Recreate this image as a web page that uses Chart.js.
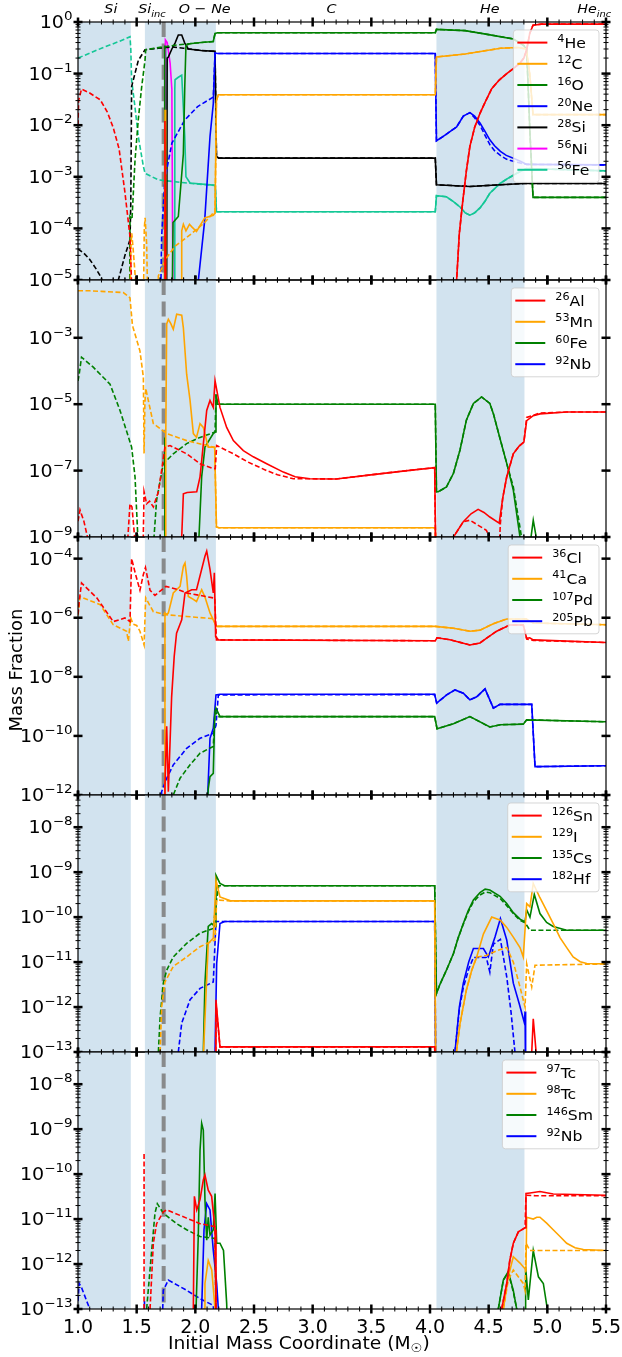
<!DOCTYPE html>
<html>
<head>
<meta charset="utf-8">
<title>Mass fraction profiles</title>
<script src="https://cdn.jsdelivr.net/npm/chart.js@4.4.1/dist/chart.umd.min.js"></script>
<style>
  html, body { margin: 0; padding: 0; background: #fff; }
  body { width: 622px; height: 1357px; position: relative; overflow: hidden; }
  canvas { position: absolute; left: 0; }
</style>
</head>
<body>
<canvas id="panel1"></canvas>
<canvas id="panel2"></canvas>
<canvas id="panel3"></canvas>
<canvas id="panel4"></canvas>
<canvas id="panel5"></canvas>
<script>
// ---- shared x axis / zones ----
const xTicks = [1.0, 1.5, 2.0, 2.5, 3.0, 3.5, 4.0, 4.5, 5.0, 5.5];
const zoneNames = [["Si", ""], ["Si", "inc"], ["O \u2212 Ne", ""], ["C", ""], ["He", ""], ["He", "inc"]];
const zoneLabelX = [1.28, 1.63, 2.08, 3.16, 4.51, 5.40];
const zoneBands = [[1.0, 1.45], [1.57, 2.175], [4.055, 4.805]];
const massCut = 1.73;

// ---- panel 1 ----
const he4Solid = [[1.735,1e-6],[1.741,1.2e-2],[1.747,1e-6],[1.75,null],[4.22,3e-6],[4.227,1e-5],[4.25,8e-5],[4.28,3.5e-4],[4.31,1.3e-3],[4.34,3.9e-3],[4.38,9e-3],[4.426,1.7e-2],[4.47,2.8e-2],[4.526,5.1e-2],[4.59,7.5e-2],[4.654,0.1],[4.71,0.125],[4.767,0.16],[4.80,0.2],[4.824,0.29],[4.85,0.6],[4.878,0.87],[4.95,0.91],[5.5,0.91]];
const he4Dashed = [[1.0,1e-2],[1.005,3e-2],[1.03,5e-2],[1.1,4.2e-2],[1.19,3.1e-2],[1.25,1.8e-2],[1.30,9e-3],[1.35,3.5e-3],[1.40,5e-4],[1.443,7e-5],[1.46,5e-6],[1.47,null],[4.22,3e-6],[4.227,1e-5],[4.25,8e-5],[4.28,3.5e-4],[4.31,1.3e-3],[4.34,3.9e-3],[4.38,9e-3],[4.426,1.7e-2],[4.47,2.8e-2],[4.526,5.1e-2],[4.59,7.5e-2],[4.654,0.1],[4.71,0.125],[4.767,0.16],[4.80,0.2],[4.824,0.29],[4.85,0.6],[4.878,0.87],[4.95,0.91],[5.5,0.91]];
const c12Solid = [[1.737,1e-6],[1.742,2e-2],[1.747,1e-6],[1.75,null],[1.88,1e-6],[1.884,9e-5],[1.898,1.2e-4],[1.92,9e-5],[1.95,1.2e-4],[1.97,1.07e-4],[2.01,8.7e-5],[2.08,1.6e-4],[2.153,1.8e-4],[2.168,2e-4],[2.18,3e-2],[2.195,3.9e-2],[4.045,3.9e-2],[4.055,0.21],[4.3,0.24],[4.6,0.31],[4.75,0.32],[4.82,0.3],[4.85,0.1],[4.878,1.6e-2],[5.5,1.6e-2]];
const c12Dashed = [[1.44,1e-6],[1.452,5e-5],[1.458,8e-5],[1.47,4e-5],[1.49,1e-5],[1.50,1e-6],[1.51,null],[1.555,1e-6],[1.565,1e-4],[1.572,1.6e-4],[1.585,5e-5],[1.60,1e-6],[1.61,null],[1.68,1e-6],[1.685,1.2e-5],[1.75,2.6e-5],[1.827,4.5e-5],[1.97,8e-5],[2.08,1.3e-4],[2.153,2e-4],[2.168,2e-4],[2.18,3e-2],[2.195,3.9e-2],[4.045,3.9e-2],[4.055,0.21],[4.3,0.24],[4.6,0.31],[4.75,0.32],[4.82,0.3],[4.85,0.1],[4.878,1.6e-2],[5.5,1.6e-2]];
const o16Solid = [[1.736,1e-6],[1.739,0.35],[1.744,1e-6],[1.75,null],[1.80,1e-6],[1.805,1.2e-5],[1.81,1.3e-4],[1.855,1.7e-4],[1.898,2.8e-3],[1.91,5.6e-2],[1.92,0.35],[1.95,0.38],[2.05,0.4],[2.153,0.42],[2.168,0.6],[2.19,0.62],[4.045,0.62],[4.055,0.72],[4.3,0.68],[4.5,0.57],[4.71,0.47],[4.8,0.35],[4.824,0.29],[4.852,7e-3],[4.878,4e-4],[5.5,4e-4]];
const o16Dashed = [[1.44,1e-6],[1.443,1.7e-4],[1.46,1.5e-4],[1.486,2.1e-3],[1.514,1.3e-2],[1.543,5.6e-2],[1.571,0.18],[1.577,0.29],[1.727,0.33],[1.85,0.36],[1.95,0.38],[2.05,0.4],[2.153,0.42],[2.168,0.6],[2.19,0.62],[4.045,0.62],[4.055,0.72],[4.3,0.68],[4.5,0.57],[4.71,0.47],[4.8,0.35],[4.824,0.29],[4.852,7e-3],[4.878,4e-4],[5.5,4e-4]];
const ne20Solid = [[1.735,1e-6],[1.74,1e-3],[1.745,1e-6],[1.75,null],[2.02,1e-6],[2.026,1e-5],[2.08,1.45e-4],[2.125,6e-3],[2.153,2.6e-2],[2.168,0.25],[2.19,0.245],[4.045,0.245],[4.055,5e-3],[4.11,6e-3],[4.17,7.5e-3],[4.227,9.3e-3],[4.284,1.5e-2],[4.34,1.75e-2],[4.38,1.5e-2],[4.426,1.1e-2],[4.47,7.5e-3],[4.51,5.2e-3],[4.55,4e-3],[4.6,3.1e-3],[4.65,2.6e-3],[4.71,2.3e-3],[4.77,2e-3],[4.824,1.74e-3],[5.5,1.7e-3]];
const ne20Dashed = [[1.70,1e-6],[1.713,7e-5],[1.74,8.7e-4],[1.80,4.5e-3],[1.91,1.26e-2],[2.02,2.3e-2],[2.153,3.5e-2],[2.168,0.25],[2.19,0.245],[4.045,0.245],[4.055,5e-3],[4.11,6e-3],[4.17,7.5e-3],[4.227,9.3e-3],[4.284,1.5e-2],[4.34,1.75e-2],[4.38,1.4e-2],[4.426,1.0e-2],[4.47,6.3e-3],[4.51,4.2e-3],[4.55,3.2e-3],[4.6,2.6e-3],[4.65,2.2e-3],[4.71,2.0e-3],[4.77,1.85e-3],[4.824,1.74e-3],[5.5,1.7e-3]];
const si28Solid = [[1.755,1e-6],[1.76,0.2],[1.77,0.21],[1.8,0.3],[1.827,0.39],[1.855,0.56],[1.884,0.56],[1.91,0.39],[1.94,0.3],[2.05,0.28],[2.168,0.27],[2.18,2.5e-3],[2.2,2.3e-3],[4.045,2.3e-3],[4.055,7e-4],[4.34,6.5e-4],[4.6,7e-4],[4.8,7.4e-4],[5.5,7.4e-4]];
const si28Dashed = [[1.0,4e-5],[1.05,3.3e-5],[1.1,2.5e-5],[1.15,1.7e-5],[1.2,1.1e-5],[1.23,5e-6],[1.24,null],[1.33,5e-6],[1.344,1e-5],[1.40,3e-5],[1.443,6e-5],[1.45,3e-4],[1.457,5.6e-2],[1.514,0.18],[1.571,0.29],[1.685,0.31],[1.8,0.33],[1.9,0.31],[2.05,0.28],[2.168,0.27],[2.18,2.5e-3],[2.2,2.3e-3],[4.045,2.3e-3],[4.055,7e-4],[4.34,6.5e-4],[4.6,7e-4],[4.8,7.4e-4],[5.5,7.4e-4]];
const ni56Solid = [[1.74,1e-6],[1.745,0.45],[1.76,0.4],[1.785,0.16],[1.80,5e-2],[1.81,1e-6]];
const ni56Dashed = [];
const fe56Solid = [[1.738,1e-6],[1.742,0.3],[1.748,1e-6],[1.75,null],[1.82,1e-6],[1.825,5e-2],[1.827,7.6e-2],[1.855,8.5e-2],[1.884,9.3e-2],[1.91,6e-3],[1.92,1e-3],[1.955,7.6e-4],[2.153,6.9e-4],[2.17,6.8e-4],[2.18,2.1e-4],[4.045,2.1e-4],[4.055,4.3e-4],[4.14,4.1e-4],[4.2,3.3e-4],[4.256,2.6e-4],[4.3,2e-4],[4.34,1.8e-4],[4.38,2e-4],[4.426,2.5e-4],[4.47,3.4e-4],[4.51,4.8e-4],[4.6,7.5e-4],[4.67,9.5e-4],[4.74,1.17e-3],[4.82,1.45e-3],[5.5,1.3e-3]];
const fe56Dashed = [[1.0,0.2],[1.2,0.31],[1.35,0.42],[1.443,0.52],[1.45,0.3],[1.457,7.6e-2],[1.485,2.3e-2],[1.514,6e-3],[1.557,1.6e-3],[1.571,1.17e-3],[1.685,8.7e-4],[1.97,7.4e-4],[2.17,6.8e-4],[2.18,2.1e-4],[4.045,2.1e-4],[4.055,4.3e-4],[4.14,4.1e-4],[4.2,3.3e-4],[4.256,2.6e-4],[4.3,2e-4],[4.34,1.8e-4],[4.38,2e-4],[4.426,2.5e-4],[4.47,3.4e-4],[4.51,4.8e-4],[4.6,7.5e-4],[4.67,9.5e-4],[4.74,1.17e-3],[4.82,1.45e-3],[5.5,1.3e-3]];

// ---- panel 2 ----
const al26Solid = [[1.88,1e-10],[1.884,1e-9],[1.898,2e-8],[1.93,2.2e-8],[2.012,2.3e-8],[2.04,6.5e-8],[2.097,6.5e-6],[2.125,1.3e-5],[2.153,8e-6],[2.168,5.1e-5],[2.21,8e-6],[2.267,2e-6],[2.324,8e-7],[2.409,4e-7],[2.494,2.6e-7],[2.608,1.6e-7],[2.75,9e-8],[2.85,6.5e-8],[2.977,5.7e-8],[3.2,5.6e-8],[3.46,7.2e-8],[3.75,9.5e-8],[4.04,1.23e-7],[4.05,1e-10],[4.1,null],[4.19,1e-10],[4.2,1e-9],[4.284,2.9e-9],[4.35,5e-9],[4.41,6.8e-9],[4.46,5.5e-9],[4.51,4e-9],[4.59,2.6e-9],[4.62,1.5e-8],[4.654,6.5e-8],[4.71,3.2e-7],[4.76,5.5e-7],[4.80,7.2e-7],[4.824,3.2e-6],[4.88,4.5e-6],[4.937,5.1e-6],[5.165,5.8e-6],[5.5,5.8e-6]];
const al26Dashed = [[1.0,3e-9],[1.017,6.5e-9],[1.05,3e-9],[1.1,5e-10],[1.11,null],[1.42,5e-10],[1.443,1e-8],[1.46,8e-9],[1.49,5e-10],[1.5,null],[1.555,5e-10],[1.563,2.3e-8],[1.585,1e-8],[1.61,1.2e-8],[1.642,8e-9],[1.685,2.3e-8],[1.72,1.5e-7],[1.741,5.1e-7],[1.784,5.7e-7],[1.926,3.2e-7],[2.04,1.6e-7],[2.153,1.15e-7],[2.17,1.15e-7],[2.182,5.7e-7],[2.324,3.2e-7],[2.45,1.8e-7],[2.608,1e-7],[2.7,7.5e-8],[2.835,5.7e-8],[3.2,5.6e-8],[3.46,7.2e-8],[3.75,9.5e-8],[4.04,1.23e-7],[4.05,1e-10],[4.1,null],[4.19,1e-10],[4.2,1e-9],[4.284,2.9e-9],[4.34,3.2e-9],[4.48,1.6e-9],[4.55,5e-10],[4.56,null],[4.59,5e-10],[4.6,2.6e-9],[4.62,1.5e-8],[4.654,6.5e-8],[4.71,3.2e-7],[4.76,5.5e-7],[4.80,7.2e-7],[4.824,4e-6],[4.937,5.4e-6],[5.165,5.8e-6],[5.5,5.8e-6]];
const mn53Solid = [[1.742,1e-10],[1.748,1e-6],[1.756,2.6e-3],[1.77,3.6e-3],[1.79,2.7e-3],[1.812,1.8e-3],[1.841,5.1e-3],[1.884,4.8e-3],[1.898,2e-3],[1.926,8e-5],[1.955,1.3e-5],[1.983,1.3e-6],[2.01,1e-6],[2.04,2.6e-6],[2.068,2e-6],[2.11,5.1e-7],[2.153,5.1e-7],[2.165,5e-7],[2.18,2e-9],[2.2,1.9e-9],[4.045,1.9e-9],[4.055,1e-10]];
const mn53Dashed = [[1.0,2.6e-2],[1.1,2.6e-2],[1.2,2.5e-2],[1.386,2.3e-2],[1.443,1.6e-2],[1.463,2.6e-3],[1.47,2e-3],[1.528,4e-4],[1.557,6.5e-5],[1.563,3.3e-7],[1.57,1e-5],[1.577,3e-5],[1.642,2.6e-6],[1.756,1.3e-6],[1.926,8e-7],[2.153,5.1e-7],[2.165,5e-7],[2.18,2e-9],[2.2,1.9e-9],[4.045,1.9e-9],[4.055,1e-10]];
const fe60Solid = [[1.737,1e-10],[1.74,1e-6],[1.743,1e-10],[1.75,null],[2.028,1e-10],[2.031,1e-9],[2.054,6.5e-8],[2.082,5.1e-7],[2.153,1.3e-6],[2.168,1.45e-6],[2.176,2e-5],[2.19,1e-5],[4.045,1e-5],[4.055,2.3e-8],[4.07,2.3e-8],[4.14,3.2e-8],[4.2,8.3e-8],[4.256,4.2e-7],[4.31,3.3e-6],[4.37,1.05e-5],[4.44,1.65e-5],[4.51,1.05e-5],[4.54,5.2e-6],[4.6,8.3e-7],[4.654,1.65e-7],[4.71,2.6e-8],[4.767,1e-9],[4.8,5e-10],[4.82,null],[4.85,5e-10],[4.88,3.2e-9],[4.92,5e-10]];
const fe60Dashed = [[1.0,5e-5],[1.01,8e-5],[1.03,2.6e-4],[1.13,1.3e-4],[1.273,4e-5],[1.358,6.5e-6],[1.457,5.1e-7],[1.486,6.5e-8],[1.514,5e-10],[1.52,null],[1.642,5e-10],[1.67,1.3e-8],[1.727,1.6e-7],[1.812,3.2e-7],[1.926,6.5e-7],[2.04,1e-6],[2.168,1.45e-6],[2.176,1.6e-5],[2.2,1e-5],[4.045,1e-5],[4.055,2.3e-8],[4.07,2.3e-8],[4.14,3.2e-8],[4.2,8.3e-8],[4.256,4.2e-7],[4.31,3.3e-6],[4.37,1.05e-5],[4.44,1.65e-5],[4.51,1.05e-5],[4.54,5.2e-6],[4.6,8.3e-7],[4.654,1.65e-7],[4.71,3.2e-8],[4.78,1e-9],[4.8,5e-10]];

// ---- panel 3 ----
const cl36Solid = [[1.735,1e-13],[1.741,1.9e-12],[1.756,2.1e-10],[1.77,1.3e-12],[1.798,2.1e-9],[1.82,4.9e-8],[1.84,3e-7],[1.884,8.5e-7],[1.912,6.9e-6],[1.969,8.9e-6],[2.01,8.9e-6],[2.082,1.2e-4],[2.097,1.8e-4],[2.125,4.3e-5],[2.153,6.9e-6],[2.162,3.3e-5],[2.173,2.3e-7],[2.196,1.78e-7],[4.045,1.66e-7],[4.06,2.1e-7],[4.17,1.8e-7],[4.34,1.2e-7],[4.426,1.4e-7],[4.48,2e-7],[4.568,3.5e-7],[4.68,5.7e-7],[4.795,5.7e-7],[4.824,2e-7],[4.85,2.1e-7],[4.88,1.78e-7],[5.5,1.45e-7]];
const cl36Dashed = [[1.0,1.3e-6],[1.01,3.5e-6],[1.03,1.5e-5],[1.16,4.7e-6],[1.30,7.4e-7],[1.40,9.8e-7],[1.443,7.4e-7],[1.457,1e-4],[1.49,3e-5],[1.528,8.5e-6],[1.557,2.9e-5],[1.575,5e-5],[1.614,8.5e-6],[1.656,5.7e-6],[1.70,8e-6],[1.75,1.15e-5],[1.85,9e-6],[1.926,6.9e-6],[2.153,4.7e-6],[2.165,4.7e-6],[2.18,1.78e-7],[2.196,1.78e-7],[4.045,1.66e-7],[4.06,2.1e-7],[4.17,1.8e-7],[4.34,1.2e-7],[4.426,1.4e-7],[4.48,2e-7],[4.568,3.5e-7],[4.68,5.7e-7],[4.795,5.7e-7],[4.824,1.9e-7],[4.88,1.7e-7],[5.5,1.45e-7]];
const ca41Solid = [[1.738,1e-13],[1.741,1.45e-6],[1.756,1.3e-6],[1.77,1.45e-6],[1.812,6.9e-6],[1.87,1.15e-5],[1.898,5.5e-5],[1.912,7.1e-5],[1.926,2.5e-5],[1.94,5.2e-6],[1.97,4.5e-6],[2.01,3.55e-6],[2.054,8.9e-6],[2.082,5e-6],[2.125,1.45e-6],[2.153,8.5e-7],[2.182,5.1e-7],[4.045,5.1e-7],[4.2,4.4e-7],[4.34,3.5e-7],[4.426,3.8e-7],[4.54,6.3e-7],[4.654,9.1e-7],[4.82,9.1e-7],[4.88,6.6e-7],[5.5,5.8e-7]];
const ca41Dashed = [[1.0,1.2e-6],[1.017,5.2e-6],[1.19,2.75e-6],[1.30,5.8e-7],[1.414,3.5e-7],[1.429,1.6e-7],[1.449,9.8e-7],[1.47,6e-7],[1.50,5.5e-7],[1.528,3.5e-7],[1.563,1.2e-7],[1.577,4.7e-6],[1.642,1.6e-6],[1.756,1.26e-6],[1.926,1.1e-6],[2.153,9.3e-7],[2.176,5.1e-7],[4.045,5.1e-7],[4.2,4.4e-7],[4.34,3.5e-7],[4.426,3.8e-7],[4.54,6.3e-7],[4.654,9.1e-7],[4.82,9.1e-7],[4.88,6.6e-7],[5.5,5.8e-7]];
const pd107Solid = [[2.095,1e-13],[2.11,1.6e-12],[2.125,4.2e-12],[2.153,5.4e-12],[2.165,4.5e-10],[2.176,8.7e-10],[2.21,4.5e-10],[4.04,4.5e-10],[4.06,1.74e-10],[4.2,2.6e-10],[4.34,4.5e-10],[4.51,2e-10],[4.6,2.4e-10],[4.795,2.5e-10],[4.824,3.5e-10],[5.5,3e-10]];
const pd107Dashed = [[1.80,1e-13],[1.812,1e-12],[1.87,3.7e-12],[1.955,1.05e-11],[2.04,2.6e-11],[2.153,4.4e-11],[2.168,6.6e-10],[2.2,4.5e-10],[4.04,4.5e-10],[4.06,1.74e-10],[4.2,2.6e-10],[4.34,4.5e-10],[4.51,2e-10],[4.6,2.4e-10],[4.795,2.5e-10],[4.824,3.5e-10],[5.5,3e-10]];
const pb205Solid = [[2.095,1e-13],[2.11,2.8e-12],[2.125,8.3e-11],[2.153,1.8e-10],[2.176,2.45e-9],[2.21,2.57e-9],[4.04,2.57e-9],[4.057,1.29e-9],[4.142,2.45e-9],[4.213,3.6e-9],[4.284,2.8e-9],[4.34,1.66e-9],[4.398,2.1e-9],[4.469,3.9e-9],[4.54,8.7e-10],[4.597,1.17e-9],[4.867,1.17e-9],[4.895,9.1e-12],[5.5,9.8e-12]];
const pb205Dashed = [[1.70,1e-13],[1.713,1.3e-12],[1.756,3.7e-12],[1.812,1.05e-11],[1.926,3.8e-11],[2.04,8.3e-11],[2.153,1.23e-10],[2.176,2.3e-10],[2.196,2.45e-9],[4.04,2.5e-9],[4.057,1.29e-9],[4.142,2.45e-9],[4.213,3.6e-9],[4.284,2.8e-9],[4.34,1.66e-9],[4.398,2.1e-9],[4.469,3.9e-9],[4.54,8.7e-10],[4.597,1.17e-9],[4.867,1.17e-9],[4.895,9.1e-12],[5.5,9.8e-12]];

// ---- panel 4 ----
const sn126Solid = [[2.17,1e-14],[2.176,1.45e-12],[2.21,1.3e-13],[4.04,1.3e-13],[4.05,1e-14],[4.1,null],[4.85,1e-14],[4.88,5.5e-13],[4.937,1e-14]];
const sn126Dashed = [[2.17,1e-14],[2.176,1.2e-12],[2.21,1.3e-13],[4.04,1.3e-13],[4.05,1e-14]];
const i129Solid = [[2.064,1e-14],[2.07,1e-13],[2.11,2.6e-11],[2.153,3.4e-11],[2.176,6.6e-10],[2.21,2.8e-10],[2.3,2.3e-10],[4.04,2.3e-10],[4.05,1e-14],[4.1,null],[4.22,1e-14],[4.227,1.1e-13],[4.256,4.3e-13],[4.31,2.4e-12],[4.355,6.5e-12],[4.398,1.3e-11],[4.455,4.2e-11],[4.526,1e-10],[4.6,8.5e-11],[4.654,5.9e-11],[4.71,3.6e-11],[4.767,2.1e-11],[4.795,1.3e-11],[4.824,2e-10],[4.852,1.7e-10],[4.88,5.6e-10],[4.937,2.7e-10],[4.994,1.4e-10],[5.05,7.2e-11],[5.108,3.5e-11],[5.165,2.1e-11],[5.22,1.3e-11],[5.28,1.02e-11],[5.336,9.3e-12],[5.5,9.1e-12]];
const i129Dashed = [[1.70,1e-13],[1.713,1e-12],[1.741,3.6e-12],[1.812,8e-12],[1.926,1.3e-11],[2.04,2.2e-11],[2.168,3.1e-11],[2.182,2.4e-10],[2.3,2.3e-10],[4.04,2.3e-10],[4.05,1e-14],[4.1,null],[4.22,1e-14],[4.227,1.1e-13],[4.256,4.3e-13],[4.31,2.4e-12],[4.355,6.5e-12],[4.398,1.3e-11],[4.48,1.4e-11],[4.57,1.8e-11],[4.654,2.1e-11],[4.71,1e-11],[4.767,2.8e-12],[4.81,1e-12],[4.824,9.1e-12],[4.867,2.8e-12],[4.895,8.5e-12],[5.5,9.1e-12]];
const cs135Solid = [[2.064,1e-14],[2.068,1e-13],[2.082,3.4e-12],[2.11,6.2e-11],[2.139,7.2e-11],[2.168,6.2e-11],[2.176,8.5e-10],[2.21,5.6e-10],[2.25,5e-10],[4.04,5e-10],[4.055,2e-12],[4.085,3.2e-12],[4.14,6.6e-12],[4.2,1.55e-11],[4.241,3.5e-11],[4.284,7.2e-11],[4.326,1.4e-10],[4.37,2.4e-10],[4.426,3.5e-10],[4.47,4.2e-10],[4.51,4e-10],[4.597,2.9e-10],[4.654,2e-10],[4.71,1.26e-10],[4.767,9e-11],[4.81,7.9e-11],[4.824,1.45e-10],[4.852,1e-10],[4.889,3.2e-10],[4.937,1.2e-10],[4.994,7.6e-11],[5.05,6.2e-11],[5.165,5.1e-11],[5.5,5.1e-11]];
const cs135Dashed = [[1.68,1e-14],[1.685,1e-13],[1.70,6e-13],[1.727,3.4e-12],[1.756,6.6e-12],[1.812,1.3e-11],[1.926,2.6e-11],[2.04,4.4e-11],[2.153,5.6e-11],[2.176,2e-10],[2.2,5e-10],[4.04,5e-10],[4.055,2e-12],[4.085,3.2e-12],[4.14,6.6e-12],[4.2,1.55e-11],[4.241,3.5e-11],[4.284,7e-11],[4.326,1.3e-10],[4.37,2.2e-10],[4.426,3.1e-10],[4.47,3.6e-10],[4.51,3.5e-10],[4.597,2.6e-10],[4.654,1.8e-10],[4.71,1.2e-10],[4.767,8.5e-11],[4.81,7.5e-11],[4.852,5.1e-11],[5.5,5.1e-11]];
const hf182Solid = [[2.164,1e-14],[2.168,1e-13],[2.182,9.3e-12],[2.21,7.2e-11],[2.25,8e-11],[4.04,8e-11],[4.05,1e-14],[4.1,null],[4.21,1e-14],[4.213,1e-13],[4.25,1e-12],[4.284,3.4e-12],[4.33,1e-11],[4.37,2e-11],[4.455,2e-11],[4.497,1.3e-11],[4.554,3.6e-11],[4.6,9.3e-11],[4.654,3.1e-11],[4.71,3.4e-12],[4.76,1.2e-12],[4.805,4.4e-13],[4.81,8e-13],[4.815,1e-14]];
const hf182Dashed = [[1.85,1e-14],[1.855,1e-13],[1.884,4.4e-13],[1.955,1.45e-12],[2.04,2.6e-12],[2.153,3.6e-12],[2.176,8e-11],[4.04,8e-11],[4.05,1e-14],[4.1,null],[4.21,1e-14],[4.213,1e-13],[4.25,9e-13],[4.284,2.7e-12],[4.33,7e-12],[4.37,1.26e-11],[4.48,1.26e-11],[4.51,6e-12],[4.54,2.5e-11],[4.6,3.2e-11],[4.654,4.7e-12],[4.69,8e-13],[4.724,1e-13],[4.73,1e-14]];

// ---- panel 5 ----
const tc97Solid = [[1.98,1e-14],[1.983,1e-13],[1.992,3.2e-11],[2.012,1.6e-11],[2.04,2.7e-11],[2.068,7.4e-11],[2.082,9.5e-11],[2.11,4.4e-11],[2.139,3.2e-11],[2.168,5.8e-12],[2.176,1e-13],[2.18,1e-14],[2.2,null],[4.6,1e-14],[4.611,1e-13],[4.654,3.7e-13],[4.68,1.2e-12],[4.71,2.9e-12],[4.753,5.2e-12],[4.81,6.4e-12],[4.818,3.7e-11],[4.852,3.8e-11],[4.937,4.1e-11],[5.05,3.6e-11],[5.5,3.4e-11]];
const tc97Dashed = [[1.563,1e-14],[1.5631,2.9e-10],[1.5632,null],[1.612,1e-14],[1.614,1e-13],[1.642,2.9e-12],[1.67,7.9e-12],[1.727,1.45e-11],[1.756,1.6e-11],[1.926,1.05e-11],[2.04,7.9e-12],[2.168,6.8e-12],[2.18,1e-14],[2.2,null],[4.6,1e-14],[4.611,1e-13],[4.654,3.7e-13],[4.68,1.2e-12],[4.71,2.9e-12],[4.753,5.2e-12],[4.81,6.4e-12],[4.818,3.4e-11],[4.9,3.3e-11],[5.5,3.3e-11]];
const tc98Solid = [[2.07,1e-14],[2.074,1e-13],[2.082,3.7e-13],[2.11,1.2e-12],[2.14,7.4e-13],[2.168,1e-13],[2.175,1e-14],[2.2,null],[4.62,1e-14],[4.625,1e-13],[4.667,5.2e-13],[4.71,1.45e-12],[4.767,1.05e-12],[4.818,7.4e-13],[4.824,1.1e-11],[4.88,1e-11],[4.91,1.1e-11],[4.937,1.1e-11],[4.994,8.1e-12],[5.05,5.8e-12],[5.108,4.1e-12],[5.165,2.9e-12],[5.236,2.3e-12],[5.307,2.1e-12],[5.5,2e-12]];
const tc98Dashed = [[4.62,1e-14],[4.625,1e-13],[4.667,4.4e-13],[4.71,7.4e-13],[4.795,3.7e-13],[4.81,2.6e-13],[4.818,2.9e-12],[4.852,2e-12],[4.88,2e-12],[5.5,2e-12]];
const sm146Solid = [[2.003,1e-14],[2.006,1e-13],[2.025,4.1e-12],[2.04,3.4e-10],[2.054,1.35e-9],[2.068,9.5e-10],[2.082,2.7e-11],[2.097,3.4e-12],[2.11,1.1e-11],[2.125,4.4e-12],[2.153,5.8e-12],[2.168,3.7e-11],[2.182,2.9e-12],[2.21,2.9e-12],[2.24,2e-12],[2.267,1.35e-13],[2.28,1e-14],[2.3,null],[4.577,1e-14],[4.582,1e-13],[4.625,4.4e-13],[4.667,6.8e-13],[4.71,2.6e-13],[4.739,1e-13],[4.745,1e-14],[4.78,null],[4.81,1e-14],[4.812,1e-13],[4.818,8.7e-13],[4.838,1.6e-13],[4.88,2e-12],[4.924,5.2e-13],[4.966,3.7e-13],[5.0,1e-13],[5.01,1e-14]];
const sm146Dashed = [[1.582,1e-14],[1.585,1e-13],[1.628,2e-12],[1.656,1.35e-11],[1.676,2.2e-11],[1.727,1.35e-11],[1.841,7.9e-12],[1.926,5.8e-12],[2.04,4.1e-12],[2.168,3.7e-12],[2.18,1e-14],[2.2,null],[4.577,1e-14],[4.582,1e-13],[4.625,4.4e-13],[4.667,6.5e-13],[4.71,2.4e-13],[4.739,1e-13],[4.745,1e-14]];
const nb92Solid = [[2.05,1e-14],[2.054,1e-13],[2.074,5.8e-12],[2.097,2.2e-11],[2.125,1.6e-11],[2.153,2e-12],[2.182,3.7e-13],[2.196,1e-13],[2.2,1e-14]];
const nb92Dashed = [[1.0,1.5e-13],[1.01,3.7e-13],[1.03,3e-13],[1.1,1e-13],[1.12,1e-14],[1.2,null],[1.563,1e-14],[1.566,1.5e-13],[1.57,1e-14],[1.6,null],[1.71,1e-14],[1.727,2.6e-13],[1.77,4.4e-13],[1.926,2.6e-13],[2.04,1.7e-13],[2.153,1.2e-13],[2.18,1e-14]];

// ---- labels, colours, tick exponents per panel ----
const p1Isotopes = [["4","He"],["12","C"],["16","O"],["20","Ne"],["28","Si"],["56","Ni"],["56","Fe"]];
const p2Isotopes = [["26","Al"],["53","Mn"],["60","Fe"],["92","Nb"]];
const p3Isotopes = [["36","Cl"],["41","Ca"],["107","Pd"],["205","Pb"]];
const p4Isotopes = [["126","Sn"],["129","I"],["135","Cs"],["182","Hf"]];
const p5Isotopes = [["97","Tc"],["98","Tc"],["146","Sm"],["92","Nb"]];
const p1Colors = ["#ff0000","#ffa500","#008000","#0000ff","#000000","#ff00ff","#14c796"];
const fourColors = ["#ff0000","#ffa500","#008000","#0000ff"];
const p1Exps = [0,-1,-2,-3,-4,-5];
const p2Exps = [-3,-5,-7,-9];
const p3Exps = [-4,-6,-8,-10,-12];
const p4Exps = [-8,-9,-10,-11,-12,-13];
const p5Exps = [-8,-9,-10,-11,-12,-13];

const FONT = '"DejaVu Sans"';
const SX = 1.12;
const BAND = "rgb(210,227,239)";

function text(ctx, str, x, y, font, align, sx) {
  ctx.save();
  ctx.font = font;
  ctx.textAlign = align || "left";
  ctx.textBaseline = "alphabetic";
  ctx.translate(x, y);
  ctx.scale(sx || SX, 1);
  ctx.fillText(str, 0, 0);
  ctx.restore();
}

function textWidth(ctx, str, font, sx) {
  ctx.save();
  ctx.font = font;
  const w = ctx.measureText(str).width * (sx || SX);
  ctx.restore();
  return w;
}

function seg(ctx, x0, y0, x1, y1) {
  ctx.beginPath();
  ctx.moveTo(x0, y0);
  ctx.lineTo(x1, y1);
  ctx.stroke();
}

function drawPow(ctx, exp, right, yc) {
  const baseFont = "17px " + FONT, supFont = "12px " + FONT;
  const sup = exp === 0 ? "0" : "\u2212" + Math.abs(exp);
  const sw = textWidth(ctx, sup, supFont);
  const bw = textWidth(ctx, "10", baseFont);
  text(ctx, "10", right - sw - bw, yc + 6, baseFont);
  text(ctx, sup, right - sw, yc - 2, supFont);
}

function drawLegend(ctx, a, isotopes, colors) {
  const baseFont = "14px " + FONT, supFont = "10px " + FONT;
  const rowH = 21.2;
  const widths = isotopes.map(([m, s]) => textWidth(ctx, m, supFont) + textWidth(ctx, s, baseFont));
  const boxW = 44 + Math.max(...widths) + 6;
  const boxH = isotopes.length * rowH + 4;
  const left = a.right - 7 - boxW, top = a.top + 8;
  ctx.save();
  ctx.fillStyle = "rgba(255,255,255,0.8)";
  ctx.strokeStyle = "rgba(204,204,204,0.8)";
  ctx.lineWidth = 1;
  ctx.beginPath();
  ctx.roundRect(left, top, boxW, boxH, 3);
  ctx.fill();
  ctx.stroke();
  isotopes.forEach(([m, s], i) => {
    const yc = top + 2 + rowH * (i + 0.5);
    ctx.strokeStyle = colors[i];
    ctx.lineWidth = 2;
    seg(ctx, left + 4, yc, left + 34, yc);
    ctx.fillStyle = "#000";
    const mw = textWidth(ctx, m, supFont);
    text(ctx, m, left + 44, yc - 0.5, supFont);
    text(ctx, s, left + 44 + mw, yc + 5, baseFont);
  });
  ctx.restore();
}

function drawFrame(chart, cfg) {
  const { ctx, chartArea: a, scales: { x: xs, y: ys } } = chart;
  ctx.save();
  ctx.strokeStyle = "#000";
  ctx.lineWidth = 1.2;
  ctx.strokeRect(a.left, a.top, a.right - a.left, a.bottom - a.top);

  // x ticks, majors every 0.5, minors every 0.1
  for (let i = 0; i < xTicks.length; i++) {
    for (let k = 0; k < 5; k++) {
      if (k > 0 && i === xTicks.length - 1) break;
      const v = xTicks[i] + k * 0.1;
      const px = xs.getPixelForValue(v);
      const L = k === 0 ? 4.5 : 2.5;
      ctx.lineWidth = k === 0 ? 2.5 : 1;
      seg(ctx, px, a.top - L, px, a.top + L);
      seg(ctx, px, a.bottom - L, px, a.bottom + L);
    }
  }
  // y ticks
  const lo = Math.floor(Math.log10(cfg.min)), hi = Math.ceil(Math.log10(cfg.max));
  for (let e = lo; e <= hi; e++) {
    for (let k = 1; k <= 9; k++) {
      const v = k * Math.pow(10, e);
      if (v < cfg.min * 0.999 || v > cfg.max * 1.001) continue;
      const major = k === 1 && cfg.exps.includes(e);
      if (!major && !cfg.minor) continue;
      const py = ys.getPixelForValue(v);
      const L = major ? 4.5 : 2.5;
      ctx.lineWidth = major ? 2.5 : 1;
      seg(ctx, a.left - L, py, a.left + L, py);
      seg(ctx, a.right - L, py, a.right + L, py);
    }
  }
  ctx.fillStyle = "#000";
  cfg.exps.forEach(e => drawPow(ctx, e, a.left - 5.5, ys.getPixelForValue(Math.pow(10, e))));

  if (cfg.zoneLabels) {
    const f = "italic 13px " + FONT, fs = "italic 9px " + FONT;
    zoneNames.forEach(([b, sub], i) => {
      const cx = xs.getPixelForValue(zoneLabelX[i]);
      const bw = textWidth(ctx, b, f, 1.1), sw = sub ? textWidth(ctx, sub, fs, 1.1) : 0;
      const x0 = cx - (bw + sw) / 2;
      text(ctx, b, x0, a.top - 8.7, f, "left", 1.1);
      if (sub) text(ctx, sub, x0 + bw, a.top - 5.5, fs, "left", 1.1);
    });
  }
  if (cfg.xLabels) {
    xTicks.forEach(v => text(ctx, v.toFixed(1), xs.getPixelForValue(v), a.bottom + 24.3, "19px " + FONT, "center", 1.0));
    const tf = "17px " + FONT, sf = "12px " + FONT;
    const main = "Initial Mass Coordinate (M";
    const mw = textWidth(ctx, main, tf, 1.1);
    const sw = textWidth(ctx, "\u2609", sf, 1.1);
    const x0 = 168, yb = a.bottom + 39.5;
    text(ctx, main, x0, yb, tf, "left", 1.1);
    text(ctx, "\u2609", x0 + mw, yb + 3, sf, "left", 1.1);
    text(ctx, ")", x0 + mw + sw, yb, tf, "left", 1.1);
  }
  if (cfg.yTitle) {
    ctx.save();
    ctx.translate(21.5, 670 - cfg.canvasTop);
    ctx.rotate(-Math.PI / 2);
    ctx.font = "18px " + FONT;
    ctx.textAlign = "center";
    ctx.fillText("Mass Fraction", 0, 0);
    ctx.restore();
  }
  ctx.restore();
}

function makeDecor(cfg) {
  return {
    id: "decor" + cfg.id,
    beforeDatasetsDraw(chart) {
      const { ctx, chartArea: a, scales: { x: xs } } = chart;
      ctx.save();
      ctx.fillStyle = BAND;
      zoneBands.forEach(([l, r]) => {
        const x0 = xs.getPixelForValue(l), x1 = xs.getPixelForValue(r);
        ctx.fillRect(x0, a.top, x1 - x0, a.bottom - a.top);
      });
      const mx = xs.getPixelForValue(massCut);
      ctx.strokeStyle = "rgba(128,128,128,0.9)";
      ctx.lineWidth = 4;
      ctx.setLineDash([15, 6.4]);
      seg(ctx, mx, a.top, mx, a.bottom);
      ctx.restore();
    },
    afterDatasetsDraw(chart) {
      drawLegend(chart.ctx, chart.chartArea, cfg.isotopes, cfg.colors);
    },
    afterDraw(chart) {
      drawFrame(chart, cfg);
    }
  };
}

function toPoints(arr) {
  return arr.map(([x, y]) => ({ x: x, y: y }));
}

function makePanel(cfg) {
  const padTop = 22, padBottom = cfg.xLabels ? 48 : 22;
  const canvas = document.getElementById(cfg.id);
  cfg.canvasTop = cfg.top - padTop;
  canvas.width = 622;
  canvas.height = cfg.bottom - cfg.top + padTop + padBottom;
  canvas.style.top = cfg.canvasTop + "px";
  canvas.style.width = "622px";
  canvas.style.height = canvas.height + "px";

  const datasets = [];
  cfg.isotopes.forEach(([m, s], i) => {
    datasets.push({ label: m + s, data: toPoints(cfg.solid[i]), borderColor: cfg.colors[i], borderWidth: 1.6 });
    datasets.push({ label: m + s + " (dashed)", data: toPoints(cfg.dashed[i]), borderColor: cfg.colors[i], borderWidth: 1.6, borderDash: [5, 2.5] });
  });

  new Chart(canvas, {
    type: "line",
    data: { datasets },
    options: {
      responsive: false,
      animation: false,
      devicePixelRatio: 1,
      events: [],
      layout: { padding: { left: 78, right: 16, top: padTop, bottom: padBottom } },
      scales: {
        x: { type: "linear", min: 1, max: 5.5, display: false },
        y: { type: "logarithmic", min: cfg.min, max: cfg.max, display: false }
      },
      plugins: { legend: { display: false }, tooltip: { enabled: false } },
      elements: { point: { radius: 0 }, line: { tension: 0, fill: false } },
      spanGaps: false
    },
    plugins: [makeDecor(cfg)]
  });
}

makePanel({ id: "panel1", top: 22, bottom: 280, min: 1e-5, max: 1, exps: p1Exps, minor: true, zoneLabels: true,
  isotopes: p1Isotopes, colors: p1Colors,
  solid: [he4Solid, c12Solid, o16Solid, ne20Solid, si28Solid, ni56Solid, fe56Solid],
  dashed: [he4Dashed, c12Dashed, o16Dashed, ne20Dashed, si28Dashed, ni56Dashed, fe56Dashed] });
makePanel({ id: "panel2", top: 280, bottom: 537, min: 1e-9, max: 5.5e-2, exps: p2Exps, minor: false,
  isotopes: p2Isotopes, colors: fourColors,
  solid: [al26Solid, mn53Solid, fe60Solid, nb92Solid],
  dashed: [al26Dashed, mn53Dashed, fe60Dashed, nb92Dashed] });
makePanel({ id: "panel3", top: 537, bottom: 795, min: 1e-12, max: 5.4e-4, exps: p3Exps, minor: false, yTitle: true,
  isotopes: p3Isotopes, colors: fourColors,
  solid: [cl36Solid, ca41Solid, pd107Solid, pb205Solid],
  dashed: [cl36Dashed, ca41Dashed, pd107Dashed, pb205Dashed] });
makePanel({ id: "panel4", top: 795, bottom: 1052, min: 1e-13, max: 5.2e-8, exps: p4Exps, minor: true,
  isotopes: p4Isotopes, colors: fourColors,
  solid: [sn126Solid, i129Solid, cs135Solid, hf182Solid],
  dashed: [sn126Dashed, i129Dashed, cs135Dashed, hf182Dashed] });
makePanel({ id: "panel5", top: 1052, bottom: 1309, min: 1e-13, max: 5.2e-8, exps: p5Exps, minor: true, xLabels: true,
  isotopes: p5Isotopes, colors: fourColors,
  solid: [tc97Solid, tc98Solid, sm146Solid, nb92Solid],
  dashed: [tc97Dashed, tc98Dashed, sm146Dashed, nb92Dashed] });
</script>
</body>
</html>
